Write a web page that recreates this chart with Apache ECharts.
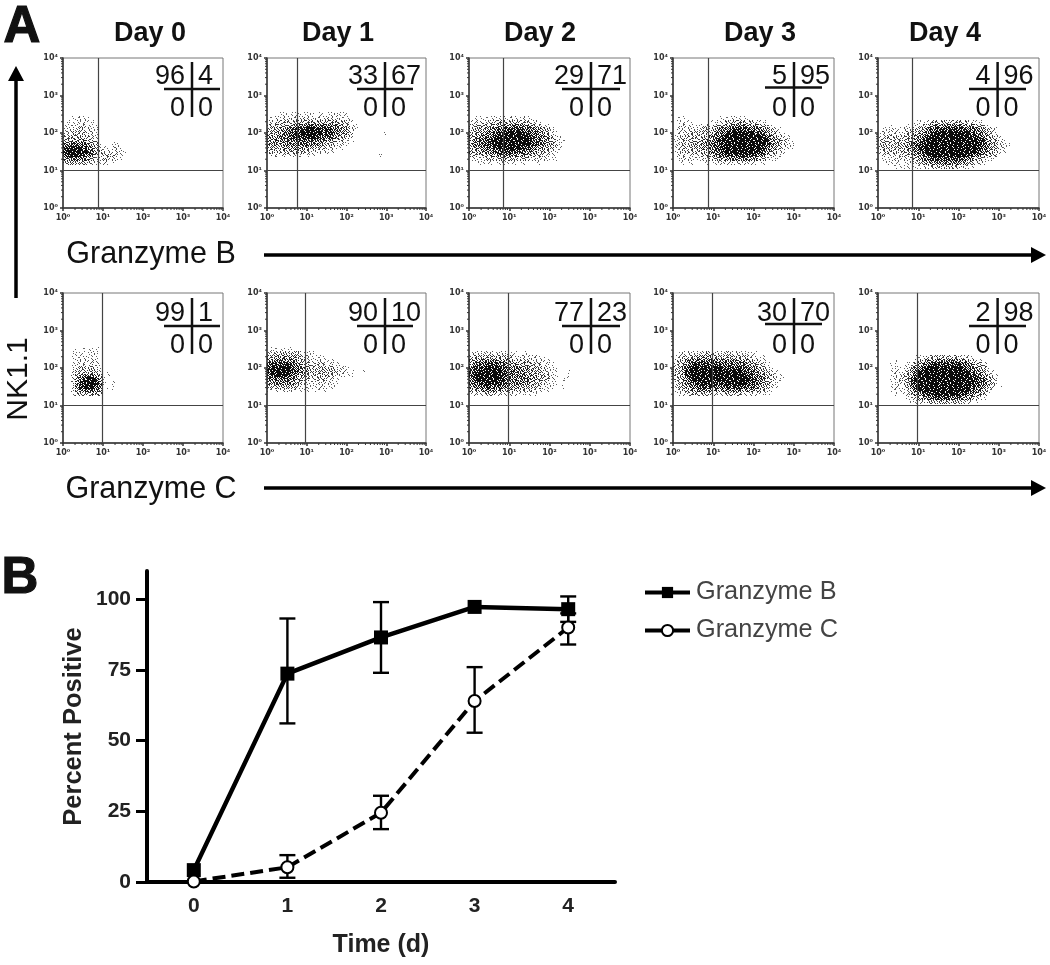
<!DOCTYPE html>
<html><head><meta charset="utf-8">
<style>html,body{margin:0;padding:0;background:#fff}#c{width:1050px;height:965px;filter:blur(0.7px)}</style>
<script src="https://cdn.jsdelivr.net/npm/echarts@6/dist/echarts.min.js"></script>
</head><body><div id="c"></div>
<script>
// ---------- Panel B data ----------
const days = ['0','1','2','3','4'];
const granzymeB = [4.2, 73.7, 86.5, 97.3, 96.5];
const granzymeBLow = [null, 56.1, 74, null, 92];
const granzymeBHigh = [null, 93.2, 99, null, 101];
const granzymeC = [0.2, 5.2, 24.5, 64, 90];
const granzymeCLow = [null, 1.5, 18.7, 52.8, 84];
const granzymeCHigh = [null, 9.5, 30.5, 76, 95];
// ---------- Panel A labels ----------
const dayTitles = ['Day 0','Day 1','Day 2','Day 3','Day 4'];
const quadB = [[96,4],[33,67],[29,71],[5,95],[4,96]];
const quadC = [[99,1],[90,10],[77,23],[30,70],[2,98]];
const gateXB = [0.875,0.755,0.857,0.87,0.857];
const gateXC = [0.975,0.956,0.969,0.98,0.969];
const gateY = 10;
// ---------- Estimated event density ----------
// Each string is one row of 0.1-decade cells; rows run from about 10^2.55 downward, columns from 10^0 rightward; 0..9 = empty..solid.
const densB0 = ["","0011211000","0112121100","1122221110","1222322110","2233332210","3344433220","4455554330","6677775431001100","8899887532112210","8999997643222221","7899887532333210","5667665322322210","3444433211211000"];
const densB1 = ["000110112111011122110000","112122222322222322211000","223333344444444444332100","334444566677777666543210","344556788899988876554210","445567889999998876554300000001","555667888899887765443200","556666777877766544321100","555566677766654432211000","444455555544433221100000","333344444332222110000000","12222222111110000000000000001"];
const densB2 = ["","0111112121221211000000000","2223233444444333210000000","3334445566677655432100000","3444556778888776654310000","4455667889999887765421000","4556778999999998776532100","5667889999999998776543210","5667889999999998876543100","4556778999999887655432100","4455667788887766544321000","3334455666665554433211000","1222333444433332222111000","0011111111111100011000000"];
const densB3 = ["","0110000000011122111000000000000","0121100011122334443322100000000","0122211222334556666554321000000","0222222333456778888776543210000","0223333344567899999988654321000","1233333445678999999999875432100","1233344556789999999999986543210","1233344566789999999999986543210","1233344556789999999999875432110","1233333445678999999998764321000","0222222344567888888877543211000","0122221223445566666554321100000","0011100011122222222211100000000"];
const densB4 = ["","","000000000111233333333322110000000","000100011223456666666655432100000","011211222344678888888877654321000","122222233456789999999988765421000","223333344567899999999998875432100","333333445678999999999999986543210","333334455789999999999999987543211","333334455789999999999999987543210","233333445678999999999999876543110","122222334567899999999988765432100","011222223456788888887765432110000","001111112234556666665543221000000","000011111112233333332211000000000"];
const densC0 = ["0001011110","0011111210","0011121110","0012222220","0012222221","0012333321","002334443201","00245666530100","00257899751000","00268999861010","0025899975011","0024677764001","0013344443"];
const densC1 = ["0111111000","2233333321110000","4455555432211110000","5666666543222211100","7888887654323322211000","8999998765433343322110","8999998765434444332211001","7899987654333443322111","6777776543323332211000","5566665432222222110","3344444322111221100","1122222111101110"];
const densC2 = ["","1222221222110010000000","3444444433322222211000","4556666555443332222100","5677888766555444332210","6889999877666554433211","7899999988776655443211001","7999999987766665544321001","7899999987666665544321011","6789999877666655433211","5677887766555444332110010","4455666554443333221100","1222333222221111100"];
const densC3 = ["","0122222233222322211110000000","1233445555444444333221100000","2345667777666665555432100000","2346788888877777666543210000","3357899999998888877654321000","3358999999999999988765432100","3358999999999999998876543110","3357899999999999999877543211","2346789999889999999876543100","2345678888777888887765432100","1234556666555666655544321000","0122333333222333322222110000"];
const densC4 = ["","","000000000112333333332221000000000","000010001234556666665543210000000","000110112456788888887765432000000","000111124678999999999876543100000","000121235799999999999987654210000","000122346899999999999998765321000","000122347999999999999999876431000","000112347999999999999999876431000","000121236899999999999998765320100","000111225789999999999987654210000","000010123568889999998876543100000","000000012345677888776654321000000","000000001122333444333221100000000"];
const densB = [densB0,densB1,densB2,densB3,densB4];
const densC = [densC0,densC1,densC2,densC3,densC4];
const densTopExp = 2.45;

// ---------- Speckle texture used as the fill of the density cells (style only) ----------
const speckle = ["3a7e05c1b92f648d1e70a3c5","c1f4928b6d03ea57b2948f06","58d06ea3f17c2b94e06d3a1c","b27f1c49085ed36a8f21c7e4","0e93a6d2b7f1482c5ba9063d","746c8f105a3ce96d17f42e8b","a1d2e37b964f08b3ca603d59","f8305bc62ea7d1594e8b17a2","496ea18d0f3b72c6135fd09c","2cb7f4391c86e5a0d7962be4","d05a682ea4d91f3b78c04163","8e13c7f06b327ec9a42f5db8","67b9d24a8fe0154d3e6b19a7","1fa05e3c7692bd8a70f8c342","c34e9bd1a05f62e7db1439e6","9087f62e4c3b18f5269ca0d5"];
const levelCut = [0,2,3,5,6,7,9,10,12,14];
const levelInk = ['','rgba(60,60,60,.8)','rgba(50,50,50,.85)','rgba(40,40,40,.9)','rgba(30,30,30,.9)','#222','#1c1c1c','#161616','#111','#0c0c0c'];
const fills = levelCut.map((cut,lv)=>{
  if(!lv) return null;
  const cv=document.createElement('canvas');cv.width=24;cv.height=16;
  const g=cv.getContext('2d');g.fillStyle=levelInk[lv];
  speckle.forEach((row,y)=>{for(let x=0;x<24;x++){if(parseInt(row[x],16)<cut)g.fillRect(x,y,1,1);}});
  return {image:cv,repeat:'repeat'};
});

const FONT='"Liberation Sans",Arial,sans-serif';
const panelLeft=[63,267,469,673,878], panelRight=[223,426,630,834,1039];
const rowTop=[58,293], rowH=150;
const crossX=[192,385,591,794,997.6];
const crossH=[[164,220],[357,413],[562,620],[765,822],[969,1026]];
const sup=['\u2070','\u00b9','\u00b2','\u00b3','\u2074'];

const grid=[],xAxis=[],yAxis=[],series=[],graphic=[];
const minorVals=[];
[1,10,100,1000].forEach(k=>{for(let m=2;m<10;m++)minorVals.push(m*k);});
function logAxis(gi,isX){
  return {type:'log',logBase:10,min:1,max:10000,gridIndex:gi,
    axisLine:{show:true,onZero:false,lineStyle:{color:'#333',width:1.5}},
    axisTick:{show:true,length:3,lineStyle:{color:'#333',width:1.5}},
    minorTick:{show:false},splitLine:{show:false},minorSplitLine:{show:false},
    axisLabel:{show:true,margin:isX?6:5,fontSize:8,fontWeight:'bold',color:'#333',fontFamily:'"DejaVu Sans",sans-serif',
      formatter:v=>'10'+sup[Math.round(Math.log10(v))]}};
}
function addPanel(r,c,dens,gx,gi){
  grid.push({left:panelLeft[c],top:rowTop[r],width:panelRight[c]-panelLeft[c],height:rowH,show:true,borderColor:'#777',borderWidth:1,backgroundColor:'transparent'});
  xAxis.push(logAxis(gi,true));yAxis.push(logAxis(gi,false));
  const cells=[];
  dens.forEach((row,i)=>{for(let j=0;j<row.length;j++){const d=+row[j];if(d>0){
    const xe=j/10,ye=densTopExp-i/10;
    cells.push([Math.pow(10,xe),Math.pow(10,ye),Math.pow(10,xe+.1),Math.pow(10,ye+.1),d]);}}});
  series.push({type:'custom',coordinateSystem:'cartesian2d',xAxisIndex:gi,yAxisIndex:gi,silent:true,animation:false,
    data:cells,encode:{x:[0,2],y:[1,3]},
    renderItem:(p,api)=>{
      const a=api.coord([api.value(0),api.value(1)]),b=api.coord([api.value(2),api.value(3)]);
      const x=Math.round(a[0]),y=Math.round(b[1]);
      return {type:'rect',shape:{x:x,y:y,width:Math.round(b[0])-x,height:Math.round(a[1])-y},style:{fill:fills[api.value(4)]}};
    },
    markLine:{silent:true,symbol:'none',animation:false,label:{show:false},lineStyle:{color:'#444',width:1.2,type:'solid'},
      data:[{xAxis:Math.pow(10,gx)},{yAxis:gateY}]}});
  series.push({type:'custom',coordinateSystem:'cartesian2d',xAxisIndex:gi,yAxisIndex:gi,silent:true,animation:false,
    data:minorVals.map(v=>[v,v]),encode:{x:0,y:1},clip:false,
    renderItem:(p,api)=>{
      const v=api.value(0),px=api.coord([v,1]),py=api.coord([1,v]);
      const st={stroke:'#333',lineWidth:1};
      return {type:'group',children:[
        {type:'line',shape:{x1:px[0],y1:px[1],x2:px[0],y2:px[1]+2},style:st},
        {type:'line',shape:{x1:py[0],y1:py[1],x2:py[0]-2,y2:py[1]},style:st}]};
    }});
}
quadB.forEach((q,c)=>addPanel(0,c,densB[c],gateXB[c],c));
quadC.forEach((q,c)=>addPanel(1,c,densC[c],gateXC[c],c+5));

function quadTable(q,c,hy,topY,botY,vTop,vBot){
  const cx=crossX[c];
  const f='27px '+FONT;
  const t=(s,x,y,al)=>({type:'text',x:x,y:y,silent:true,style:{text:String(s),font:f,fill:'#111',textAlign:al,textVerticalAlign:'middle'}});
  graphic.push(t(q[0],cx-7,topY,'right'),t(q[1],cx+6,topY,'left'),t(0,cx-7,botY,'right'),t(0,cx+6,botY,'left'));
  const ln={stroke:'#111',lineWidth:2.5};
  graphic.push({type:'line',silent:true,shape:{x1:crossH[c][0],y1:hy,x2:crossH[c][1],y2:hy},style:ln},
    {type:'line',silent:true,shape:{x1:cx,y1:vTop,x2:cx,y2:vBot},style:ln});
}
quadB.forEach((q,c)=>quadTable(q,c,c===3?87.5:89,77,109,62,117));
quadC.forEach((q,c)=>quadTable(q,c,c===3?324:326,314,346,298,354));

const txt=(s,x,y,font,extra,st)=>Object.assign({type:'text',x:x,y:y,silent:true,style:Object.assign({text:s,font:font+' '+FONT,fill:'#111',textAlign:'center',textVerticalAlign:'middle'},st||{})},extra||{});
const titleX=[150,338,540,760,945];
dayTitles.forEach((d,i)=>graphic.push(txt(d,titleX[i],34,'bold 27px')));
const heavy={stroke:'#111',lineWidth:1.2};
graphic.push(txt('A',22,28,'bold 51px',null,heavy),txt('B',20,579,'bold 51px',null,heavy));
graphic.push(txt('Granzyme B',151,255,'30.5px'),txt('Granzyme C',151,490,'30.5px'));
graphic.push(txt('NK1.1',19,379,'30px',{rotation:Math.PI/2}));
const arrow={stroke:'#000',lineWidth:3.5};
graphic.push({type:'line',silent:true,shape:{x1:16,y1:298,x2:16,y2:78},style:arrow},
  {type:'polygon',silent:true,shape:{points:[[16,66],[8,81],[24,81]]},style:{fill:'#000'}});
[255,488].forEach(y=>graphic.push({type:'line',silent:true,shape:{x1:264,y1:y,x2:1034,y2:y},style:arrow},
  {type:'polygon',silent:true,shape:{points:[[1046,y],[1031,y-8],[1031,y+8]]},style:{fill:'#000'}}));

// ---------- Panel B ----------
const gi=10;
grid.push({left:147,top:571,width:468,height:311});
xAxis.push({type:'category',data:days,gridIndex:gi,boundaryGap:true,
  axisLine:{lineStyle:{color:'#000',width:4}},
  axisTick:{alignWithLabel:true,length:9,lineStyle:{color:'#000',width:3}},
  axisLabel:{fontSize:21,fontWeight:'bold',color:'#222',fontFamily:FONT,margin:14},
  name:'Time (d)',nameLocation:'middle',nameGap:51,nameTextStyle:{fontSize:25,fontWeight:'bold',color:'#222',fontFamily:FONT}});
yAxis.push({type:'value',min:0,max:110,gridIndex:gi,splitLine:{show:false},
  axisLine:{show:true,lineStyle:{color:'#000',width:4}},
  axisTick:{show:true,length:11,customValues:[0,25,50,75,100],lineStyle:{color:'#000',width:3}},
  axisLabel:{fontSize:21,fontWeight:'bold',color:'#222',fontFamily:FONT,margin:16,customValues:[0,25,50,75,100]},
  name:'Percent Positive',nameLocation:'middle',nameGap:60,nameRotate:90,nameTextStyle:{fontSize:25.5,fontWeight:'bold',color:'#222',fontFamily:FONT}});
function errSeries(lo,hi,name){
  return {type:'custom',name:name,coordinateSystem:'cartesian2d',xAxisIndex:gi,yAxisIndex:gi,silent:true,animation:false,clip:false,z:3,
    data:days.map((d,i)=>[i,lo[i],hi[i]]).filter(r=>r[1]!==null),encode:{x:0,y:[1,2]},
    renderItem:(p,api)=>{
      const a=api.coord([api.value(0),api.value(1)]),b=api.coord([api.value(0),api.value(2)]);
      const st={stroke:'#000',lineWidth:2.4},w=8;
      return {type:'group',children:[
        {type:'line',shape:{x1:a[0],y1:a[1],x2:b[0],y2:b[1]},style:st},
        {type:'line',shape:{x1:a[0]-w,y1:a[1],x2:a[0]+w,y2:a[1]},style:st},
        {type:'line',shape:{x1:b[0]-w,y1:b[1],x2:b[0]+w,y2:b[1]},style:st}]};
    }};
}
series.push(errSeries(granzymeBLow,granzymeBHigh,'errB'),errSeries(granzymeCLow,granzymeCHigh,'errC'));
series.push({type:'line',name:'Granzyme B',data:granzymeB,xAxisIndex:gi,yAxisIndex:gi,animation:false,clip:false,z:4,
  symbol:'rect',symbolSize:14,lineStyle:{color:'#000',width:4.5},itemStyle:{color:'#000'}});
series.push({type:'line',name:'Granzyme C',data:granzymeC,xAxisIndex:gi,yAxisIndex:gi,animation:false,clip:false,z:5,
  symbol:'circle',symbolSize:12,lineStyle:{color:'#000',width:4,type:[13,6]},itemStyle:{color:'#fff',borderColor:'#000',borderWidth:2},showSymbol:true});

const chart=echarts.init(document.getElementById('c'),null,{renderer:'canvas',width:1050,height:965});
chart.setOption({animation:false,backgroundColor:'#fff',textStyle:{fontFamily:FONT},
  legend:{data:['Granzyme B','Granzyme C'],left:638,top:575,orient:'vertical',itemWidth:45,itemHeight:14,itemGap:13,
    lineStyle:{width:4,type:'solid'},
    textStyle:{fontSize:25.3,color:'#444',fontFamily:FONT,padding:[0,0,0,1]}},
  grid,xAxis,yAxis,series,graphic:{elements:graphic}});
</script></body></html>
